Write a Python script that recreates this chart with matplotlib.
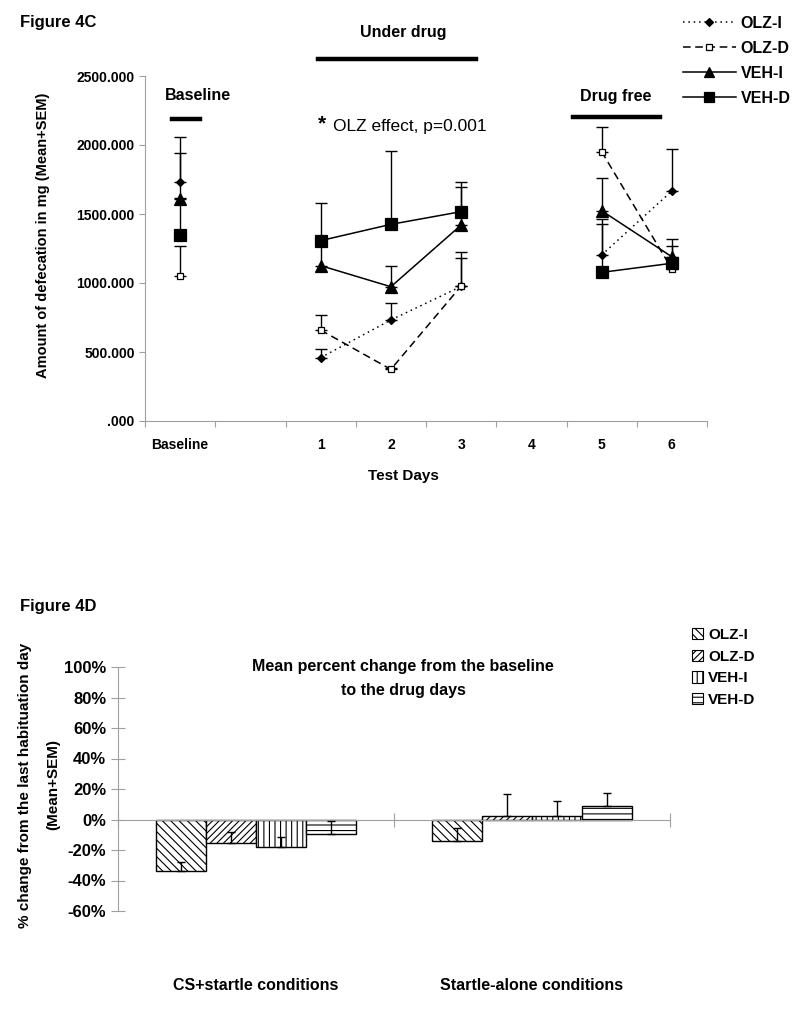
import numpy as np
import matplotlib
matplotlib.use("Agg")
import matplotlib.pyplot as plt
from matplotlib.lines import Line2D
from matplotlib.patches import Patch

plt.rcParams['font.family'] = ['Liberation Sans', 'DejaVu Sans']
plt.rcParams['font.weight'] = 'bold'
plt.rcParams['hatch.linewidth'] = 0.8

W, H = 810, 1011
def fx(x):
    return x / W
def fy(y):
    return 1 - y / H

# ---- Figure 4C data ----
days = ['Baseline', '', '1', '2', '3', '4', '5', '6']
nan = np.nan
olz_i = [1734, nan, 459, 732, 975, nan, 1203, 1667]
olz_i_sem = [322, 0, 65, 123, 209, 0, 259, 304]
olz_d = [1053, nan, 659, 374, 978, nan, 1952, 1101]
olz_d_sem = [215, 0, 107, 10, 249, 0, 178, 40]
veh_i = [1609, nan, 1126, 973, 1420, nan, 1524, 1190]
veh_i_sem = [331, 0, 200, 150, 273, 0, 234, 129]
veh_d = [1348, nan, 1307, 1425, 1517, nan, 1077, 1143]
veh_d_sem = [267, 0, 270, 532, 212, 0, 348, 125]
ytick_vals = [0, 500, 1000, 1500, 2000, 2500]
ytick_labels = ['.000', '500.000', '1000.000', '1500.000', '2000.000', '2500.000']

# ---- Figure 4D data ----
conditions = ['CS+startle conditions', 'Startle-alone conditions']
groups = ['OLZ-I', 'OLZ-D', 'VEH-I', 'VEH-D']
pct_mean = {
    'OLZ-I': [-0.34, -0.14],
    'OLZ-D': [-0.155, 0.026],
    'VEH-I': [-0.18, 0.026],
    'VEH-D': [-0.098, 0.09],
}
pct_sem = {
    'OLZ-I': [0.06, 0.083],
    'OLZ-D': [0.075, 0.14],
    'VEH-I': [0.064, 0.094],
    'VEH-D': [0.088, 0.082],
}
hatches = {'OLZ-I': '\\\\\\\\', 'OLZ-D': '/////', 'VEH-I': '|||', 'VEH-D': '---'}
pct_ticks = [-0.6, -0.4, -0.2, 0, 0.2, 0.4, 0.6, 0.8, 1.0]

gray = '#a0a0a0'
fig = plt.figure(figsize=(8.1, 10.11), dpi=100)

# ================= top panel =================
ax1 = fig.add_axes([fx(145), fy(421), fx(707) - fx(145), fy(76) - fy(421)])
x = np.arange(len(days))
styles = [
    ('OLZ-I', olz_i, olz_i_sem, (0, (1, 2.5)), 'D', 4.5, 'black'),
    ('OLZ-D', olz_d, olz_d_sem, (0, (5, 3)), 's', 5, 'white'),
    ('VEH-I', veh_i, veh_i_sem, '-', '^', 8, 'black'),
    ('VEH-D', veh_d, veh_d_sem, '-', 's', 8, 'black'),
]
handles = []
for name, vals, sem, ls, mk, ms, fc in styles:
    vals = np.array(vals, dtype=float)
    sem = np.array(sem, dtype=float)
    ax1.errorbar(x, vals, yerr=[np.zeros_like(sem), sem], fmt='none',
                 ecolor='black', elinewidth=1, capsize=4, capthick=1, zorder=2)
    ax1.plot(x, vals, color='black', lw=1.1, ls=ls, marker=mk, ms=ms,
             mfc=fc, mec='black', mew=0.9, zorder=3)
    handles.append(Line2D([], [], color='black', lw=1.1, ls=ls, marker=mk,
                          ms=ms * 0.9, mfc=fc, mec='black', mew=0.9))

ax1.set_xlim(-0.5, len(days) - 0.5)
ax1.set_ylim(0, 2500)
ax1.set_yticks(ytick_vals)
ax1.set_yticklabels(ytick_labels, fontsize=10, fontweight='bold')
ax1.set_xticks(np.arange(len(days) + 1) - 0.5)
ax1.set_xticklabels([])
ax1.set_xticks(x, minor=True)
ax1.set_xticklabels(days, minor=True, fontsize=10, fontweight='bold')
ax1.tick_params(axis='x', which='minor', length=0, pad=12)
ax1.tick_params(axis='both', which='major', color=gray, length=4, direction='out')
for s in ['top', 'right']:
    ax1.spines[s].set_visible(False)
for s in ['left', 'bottom']:
    ax1.spines[s].set_color(gray)

ax1.legend(handles, groups, loc='upper left', bbox_to_anchor=(fx(683), fy(16)),
           bbox_transform=fig.transFigure, frameon=False, handlelength=3.3,
           handletextpad=0.3, labelspacing=0.62, borderpad=0, borderaxespad=0,
           numpoints=1, prop={'size': 11.5, 'weight': 'bold'})

fig.text(fx(20), fy(22), 'Figure 4C', fontsize=12, fontweight='bold', va='center')
fig.text(fx(403), fy(33), 'Under drug', fontsize=11.5, fontweight='bold',
         ha='center', va='center')
fig.text(fx(198), fy(95), 'Baseline', fontsize=11.5, fontweight='bold',
         ha='center', va='center')
fig.text(fx(616), fy(96), 'Drug free', fontsize=11.5, fontweight='bold',
         ha='center', va='center')
fig.text(fx(318), fy(124), '*', fontsize=15, fontweight='bold', va='center')
fig.text(fx(333), fy(126), 'OLZ effect, p=0.001', fontsize=12.5,
         fontweight='normal', va='center')
for x0, x1, yy in [(318, 476, 59), (172, 200, 119), (573, 660, 117)]:
    fig.add_artist(Line2D([fx(x0), fx(x1)], [fy(yy), fy(yy)], color='black',
                          lw=3.2, transform=fig.transFigure))
fig.text(fx(43), fy(235), 'Amount of defecation in mg (Mean+SEM)', fontsize=10.5,
         fontweight='bold', rotation=90, ha='center', va='center')
fig.text(fx(403), fy(476), 'Test Days', fontsize=11, fontweight='bold',
         ha='center', va='center')

# ================= bottom panel =================
ax2 = fig.add_axes([fx(118), fy(911), fx(670) - fx(118), fy(667) - fy(911)])
cx = np.arange(len(conditions))
bw = 0.182
for i, g in enumerate(groups):
    pos = cx + (i - 1.5) * bw
    ax2.bar(pos, pct_mean[g], width=bw, color='white', edgecolor='black',
            hatch=hatches[g], linewidth=1, zorder=2)
    m = np.array(pct_mean[g])
    ax2.errorbar(pos, m, yerr=[np.zeros_like(m), np.array(pct_sem[g])], fmt='none',
                 ecolor='black', elinewidth=1, capsize=3, capthick=1, zorder=3)

ax2.set_xlim(-0.5, 1.5)
ax2.set_ylim(-0.6, 1.0)
ax2.set_yticks(pct_ticks)
ax2.set_yticklabels(['%d%%' % round(v * 100) for v in pct_ticks], fontsize=12,
                    fontweight='bold')
ax2.set_xticks([-0.5, 0.5, 1.5])
ax2.set_xticklabels([])
ax2.spines['bottom'].set_position(('data', 0))
for s in ['top', 'right']:
    ax2.spines[s].set_visible(False)
for s in ['left', 'bottom']:
    ax2.spines[s].set_color(gray)
ax2.tick_params(axis='both', color=gray, length=10, direction='inout')
for c, name in zip(cx, conditions):
    ax2.text(c, -0.6 - 75 / 244 * 1.6, name, fontsize=11.5, fontweight='bold',
             ha='center', va='center')

leg_handles = [Patch(facecolor='white', edgecolor='black', hatch=hatches[g], lw=0.8)
               for g in groups]
ax2.legend(leg_handles, groups, loc='upper left', bbox_to_anchor=(fx(692), fy(628)),
           bbox_transform=fig.transFigure, frameon=False, handlelength=0.7,
           handleheight=0.75, handletextpad=0.35, labelspacing=0.5, borderpad=0,
           borderaxespad=0, prop={'size': 11, 'weight': 'bold'})

fig.text(fx(20), fy(606), 'Figure 4D', fontsize=12, fontweight='bold', va='center')
fig.text(fx(403), fy(666), 'Mean percent change from the baseline', fontsize=11.5,
         fontweight='bold', ha='center', va='center')
fig.text(fx(403), fy(690), 'to the drug days', fontsize=11.5,
         fontweight='bold', ha='center', va='center')
fig.text(fx(25), fy(785), '% change from the last habituation day', fontsize=11,
         fontweight='bold', rotation=90, ha='center', va='center')
fig.text(fx(53), fy(785), '(Mean+SEM)', fontsize=11,
         fontweight='bold', rotation=90, ha='center', va='center')

fig.savefig('out.png', dpi=100)
